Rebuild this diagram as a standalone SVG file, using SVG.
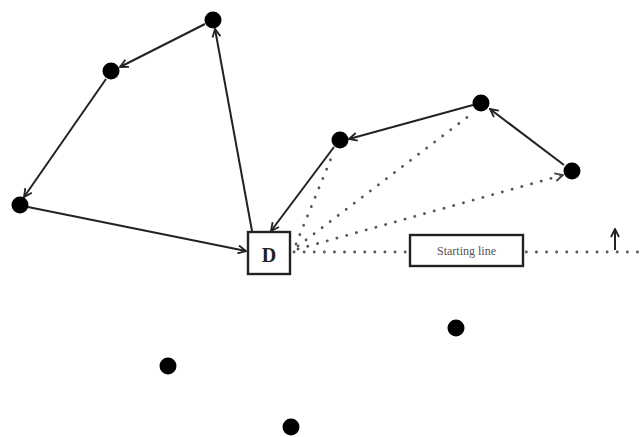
<svg xmlns="http://www.w3.org/2000/svg" width="640" height="437" viewBox="0 0 640 437">
<style>
.dot{fill:#000}
.solid{stroke:#222;stroke-width:2;fill:none}
.dotted{stroke:#555;stroke-width:2.8;fill:none;stroke-dasharray:0.1 10;stroke-linecap:round}
.box{fill:#fff;stroke:#222;stroke-width:2.4}
</style>
<defs>
<marker id="ah" viewBox="0 0 10 10" refX="9" refY="5" markerWidth="10" markerHeight="10" markerUnits="userSpaceOnUse" orient="auto">
<path d="M1,1 L9,5 L1,9" fill="none" stroke="#222" stroke-width="1.8"/>
</marker>
<marker id="ahd" viewBox="0 0 10 10" refX="9" refY="5" markerWidth="10" markerHeight="10" markerUnits="userSpaceOnUse" orient="auto">
<path d="M1,1 L9,5 L1,9" fill="none" stroke="#444" stroke-width="1.8"/>
</marker>
</defs>
<rect width="640" height="437" fill="#fff"/>
<g id="connectors">
<line class="dotted" x1="294" y1="252" x2="640" y2="252"/>
<line class="dotted" x1="296" y1="244" x2="332" y2="156"/>
<line class="dotted" x1="298" y1="246" x2="474" y2="112"/>
<line class="dotted" x1="298" y1="249" x2="563" y2="175" marker-end="url(#ahd)"/>
<line class="solid" x1="252" y1="231" x2="215" y2="29" marker-end="url(#ah)"/>
<line class="solid" x1="205" y1="24" x2="120" y2="67" marker-end="url(#ah)"/>
<line class="solid" x1="106" y1="79" x2="24" y2="197" marker-end="url(#ah)"/>
<line class="solid" x1="28" y1="207" x2="246" y2="251" marker-end="url(#ah)"/>
<line class="solid" x1="564" y1="165" x2="490" y2="109" marker-end="url(#ah)"/>
<line class="solid" x1="473" y1="105" x2="349" y2="139" marker-end="url(#ah)"/>
<line class="solid" x1="334" y1="147" x2="271" y2="231" marker-end="url(#ah)"/>
<line class="solid" x1="615" y1="250" x2="615" y2="229" marker-end="url(#ah)"/>
</g>
<g id="n-a"><circle class="dot" cx="213" cy="20" r="8.5"/></g>
<g id="n-b"><circle class="dot" cx="111" cy="71" r="8.5"/></g>
<g id="n-c"><circle class="dot" cx="20" cy="205" r="8.5"/></g>
<g id="n-e"><circle class="dot" cx="340" cy="140" r="8.5"/></g>
<g id="n-f"><circle class="dot" cx="481" cy="103" r="8.5"/></g>
<g id="n-g"><circle class="dot" cx="572" cy="171" r="8.5"/></g>
<g id="n-h"><circle class="dot" cx="168" cy="366" r="8.5"/></g>
<g id="n-i"><circle class="dot" cx="291" cy="427" r="8.5"/></g>
<g id="n-j"><circle class="dot" cx="456" cy="328" r="8.5"/></g>
<g id="n-d">
<rect class="box" x="248" y="232" width="42" height="42"/>
<text x="269" y="262" text-anchor="middle" font-family="Liberation Serif, serif" font-weight="bold" font-size="20" fill="#222">D</text>
</g>
<g id="n-start">
<rect class="box" x="410" y="235" width="113" height="31"/>
<text x="466.5" y="255" text-anchor="middle" font-family="Liberation Serif, serif" font-size="12" fill="#555">Starting line</text>
</g>
</svg>
